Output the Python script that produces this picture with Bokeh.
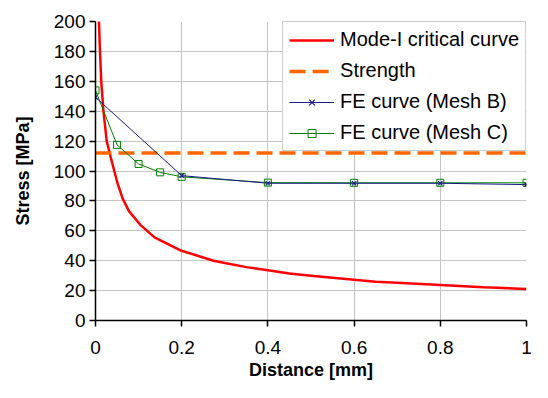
from bokeh.plotting import figure
from bokeh.models import Range1d, FixedTicker, Legend, LegendItem
from bokeh.embed import file_html
from bokeh.resources import INLINE

# ---- data ----
crit_x = [0.006, 0.008, 0.0104, 0.0133, 0.0185, 0.026, 0.035, 0.044, 0.052, 0.063, 0.078,
          0.104, 0.137, 0.196, 0.274, 0.3, 0.35, 0.4, 0.45, 0.5, 0.6, 0.65, 0.7, 0.8, 0.9, 1.0]
crit_y = [225, 200, 180, 160, 140, 120, 109.5, 99.5, 91, 81.5, 73,
          64, 55.6, 47, 40, 38.4, 35.7, 33.6, 31.4, 30, 27.2, 25.9, 25.2, 23.8, 22.3, 21]

strength = 112.0

meshB_x = [0, 0.2, 0.4, 0.6, 0.8, 1.0]
meshB_y = [149.3, 96.9, 91.8, 91.8, 91.8, 90.9]

meshC_x = [0, 0.05, 0.1, 0.15, 0.2, 0.4, 0.6, 0.8, 1.0]
meshC_y = [153.9, 117.5, 104.7, 99.1, 96.1, 92.2, 92.1, 92.1, 92.1]

x_ticks = [0, 0.2, 0.4, 0.6, 0.8, 1]
x_tick_labels = ["0", "0.2", "0.4", "0.6", "0.8", "1"]
y_ticks = [0, 20, 40, 60, 80, 100, 120, 140, 160, 180, 200]

labels = ["Mode-I critical curve", "Strength", "FE curve (Mesh B)", "FE curve (Mesh C)"]

FONT = "Liberation Sans"

p = figure(width=532, height=382, output_backend="svg", toolbar_location=None,
           x_range=Range1d(0, 1), y_range=Range1d(0, 200),
           min_border_left=95, min_border_right=6, min_border_top=21, min_border_bottom=60)
p.outline_line_color = None
p.background_fill_color = "white"

# grids
p.xgrid.ticker = FixedTicker(ticks=x_ticks)
p.ygrid.ticker = FixedTicker(ticks=y_ticks)
for g in (p.xgrid, p.ygrid):
    g.grid_line_color = "#c4c4c4"
    g.grid_line_width = 1

# axes
p.xaxis.ticker = FixedTicker(ticks=x_ticks)
p.xaxis.major_label_overrides = {t: l for t, l in zip(x_ticks, x_tick_labels)}
p.yaxis.ticker = FixedTicker(ticks=y_ticks)
p.xaxis.axis_label = "Distance [mm]"
p.yaxis.axis_label = "Stress [MPa]"
for ax in (p.xaxis[0], p.yaxis[0]):
    ax.axis_line_color = "black"
    ax.axis_line_width = 1.5
    ax.major_tick_line_color = "black"
    ax.major_tick_line_width = 1.5
    ax.major_tick_out = 6
    ax.major_tick_in = 0
    ax.minor_tick_line_color = None
    ax.major_label_text_font = FONT
    ax.major_label_text_font_size = "19px"
    ax.major_label_text_color = "black"
    ax.axis_label_text_font = FONT
    ax.axis_label_text_font_size = "18px"
    ax.axis_label_text_font_style = "bold"
    ax.axis_label_text_color = "black"
p.xaxis.major_label_standoff = 14
p.xaxis.axis_label_standoff = 3
p.yaxis.major_label_standoff = 4
p.yaxis.axis_label_standoff = 18

# renderers
r_crit = p.line(crit_x, crit_y, line_color="#ff0000", line_width=2.5)
r_str = p.line([0, 1], [strength, strength], line_color="#ff6600", line_width=3.5,
               line_dash="16 7")
rc_line = p.line(meshC_x, meshC_y, line_color="#008000", line_width=1)
rc_pts = p.scatter(meshC_x, meshC_y, marker="square", size=7, line_color="#008000",
                   fill_color=None, line_width=1)
rb_line = p.line(meshB_x, meshB_y, line_color="#1a1a8a", line_width=1)
rb_pts = p.scatter(meshB_x, meshB_y, marker="x", size=6, line_color="#1a1a8a", line_width=1.2)

legend = Legend(items=[
    LegendItem(label=labels[0], renderers=[r_crit]),
    LegendItem(label=labels[1], renderers=[r_str]),
    LegendItem(label=labels[2], renderers=[rb_line, rb_pts]),
    LegendItem(label=labels[3], renderers=[rc_line, rc_pts]),
], location="top_right")
legend.margin = 0
legend.padding = 6
legend.spacing = 8
legend.glyph_width = 45
legend.glyph_height = 20
legend.label_height = 20
legend.label_standoff = 6
legend.label_text_font = FONT
legend.label_text_font_size = "20px"
legend.label_text_color = "black"
legend.border_line_color = "#9a9a9a"
legend.border_line_width = 1.5
legend.background_fill_color = "white"
legend.background_fill_alpha = 1.0
p.add_layout(legend, "center")

open("out.html", "w").write(file_html(p, INLINE))
